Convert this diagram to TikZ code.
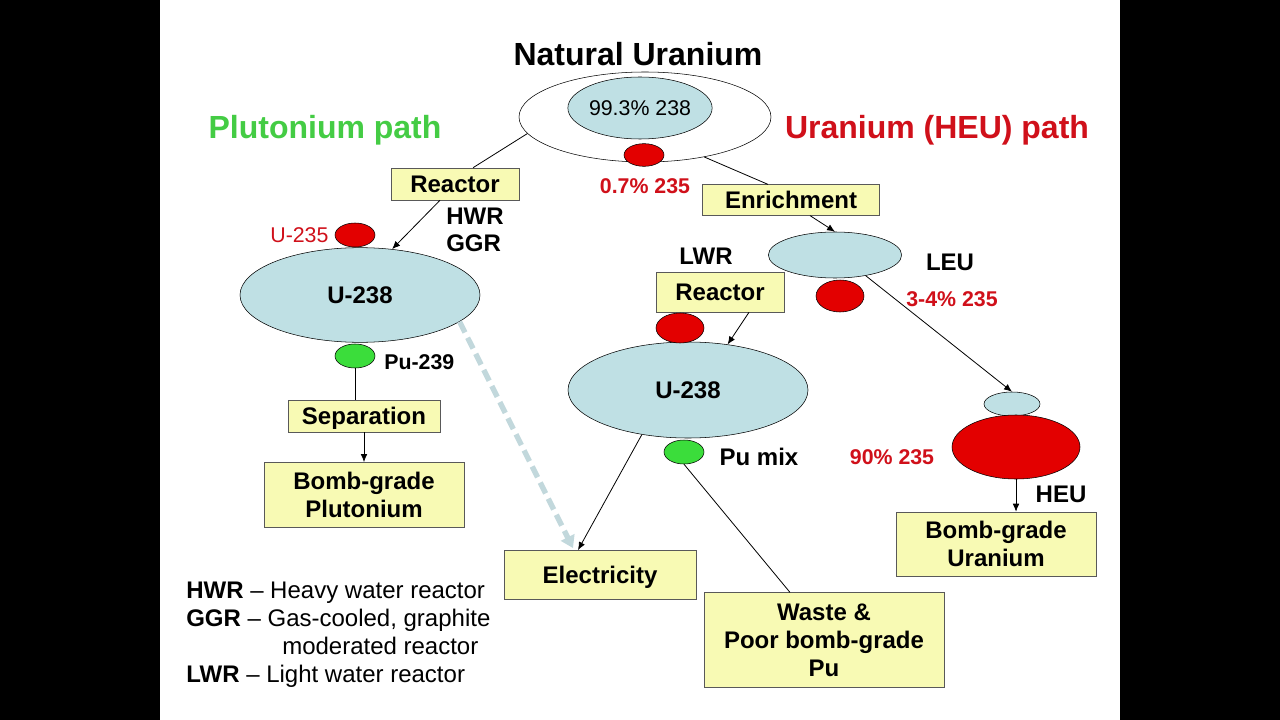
\documentclass[tikz,border=0pt]{standalone}
\usepackage{fontspec}
\setmainfont{Liberation Sans}
\usetikzlibrary{shapes.geometric, arrows.meta, positioning, calc}
\definecolor{paleblue}{HTML}{BFE0E4}
\definecolor{paleyellow}{HTML}{F8FAB4}
\definecolor{uranred}{HTML}{E30000}
\definecolor{textred}{HTML}{D0101A}
\definecolor{pugreen}{HTML}{3BDD3B}
\definecolor{pathgreen}{HTML}{44CC44}
\definecolor{dashblue}{HTML}{C2D8DC}

\begin{document}
\begin{tikzpicture}[
  x=0.75pt, y=-0.75pt,
  box/.style={rectangle, draw=black!65, fill=paleyellow, align=center, inner sep=0pt, text depth=0pt, font=\fontsize{18}{21}\selectfont\bfseries},
  blob/.style={ellipse, draw=black, fill=paleblue, inner sep=0pt, font=\fontsize{18}{21}\selectfont\bfseries},
  redblob/.style={ellipse, draw=black, fill=uranred, inner sep=0pt, minimum width=30pt, minimum height=18pt},
  greenblob/.style={ellipse, draw=black, fill=pugreen, inner sep=0pt, minimum width=30pt, minimum height=18pt},
  lbl/.style={font=\fontsize{18}{21}\selectfont\bfseries, inner sep=0pt, text depth=0pt},
  small/.style={font=\fontsize{16}{19}\selectfont\bfseries, inner sep=0pt, text depth=0pt},
  pct/.style={small, text=textred},
  heading/.style={font=\fontsize{24}{28}\selectfont\bfseries, inner sep=0pt, text depth=0pt},
  arrow/.style={-{Latex[length=6pt,width=5pt]}, line width=0.6pt},
  link/.style={line width=0.6pt}
]

% Slide
\fill[black] (0,0) rectangle (1280,720);
\fill[white] (160,0) rectangle (1120,720);
\useasboundingbox (0,0) rectangle (1280,720);

% Natural uranium
\node[heading] (title) at (638,54) {Natural Uranium};
\node[ellipse, draw=black, fill=white, minimum width=189pt, minimum height=67.5pt] (nat) at (645,117) {};
\node[blob, minimum width=108pt, minimum height=46.5pt, font=\fontsize{16}{19}\selectfont] (nat238) at (640,108) {99.3\% 238};
\node[redblob, minimum height=17pt] (nat235) at (644,155) {};
\node[pct] (natpct) at (645,186) {0.7\% 235};

% Path headings
\node[heading, text=pathgreen] (pupath) at (325,127) {Plutonium path};
\node[heading, text=textred] (upath) at (937,127) {Uranium (HEU) path};

% Plutonium path
\node[box, minimum width=96pt, minimum height=24pt] (react1) at (455,184) {Reactor};
\node[lbl, anchor=west] (hwr) at (446,216) {HWR};
\node[lbl, anchor=west] (ggr) at (446,243) {GGR};
\node[blob, minimum width=180pt, minimum height=71pt] (u238a) at (360,295) {U-238};
\node[redblob] (u235a) at (355,235) {};
\node[font=\fontsize{16}{19}\selectfont, text=textred, inner sep=0pt, left=4.5pt of u235a] (u235lbl) {U-235};
\node[greenblob] (pu1) at (355,356) {};
\node[small, anchor=west] (pu1lbl) at (384,362) {Pu-239};
\node[box, minimum width=114pt, minimum height=24pt] (sep) at (364,416) {Separation};
\node[box, minimum width=150pt, minimum height=49pt] (bgpu) at (364,495) {Bomb-grade\\Plutonium};

% Uranium (HEU) path
\node[box, minimum width=133pt, minimum height=23pt] (enr) at (791,200) {Enrichment};
\node[blob, minimum width=100pt, minimum height=34.5pt] (leu) at (835,255) {};
\node[lbl] (leulbl) at (950,262) {LEU};
\node[redblob, minimum width=36pt, minimum height=24pt] (leu235) at (840,296) {};
\node[pct] (leupct) at (952,299) {3-4\% 235};
\node[blob, minimum width=42pt, minimum height=18pt] (heu238) at (1012,404) {};
\node[redblob, minimum width=96pt, minimum height=48pt] (heu) at (1016,447) {};
\node[pct] (heupct) at (892,457) {90\% 235};
\node[lbl] (heulbl) at (1061,494) {HEU};
\node[box, minimum width=150pt, minimum height=48pt] (bgu) at (996,544) {Bomb-grade\\Uranium};

% Power reactor
\node[lbl] (lwr) at (706,256) {LWR};
\node[box, minimum width=96pt, minimum height=30pt] (react2) at (720,292) {Reactor};
\node[blob, minimum width=180pt, minimum height=72pt] (u238b) at (688,390) {U-238};
\node[redblob, minimum width=36pt, minimum height=22.5pt] (fuel235) at (680,328) {};
\node[greenblob] (pu2) at (684,452) {};
\node[lbl] (pu2lbl) at (759,457) {Pu mix};
\node[box, minimum width=144pt, minimum height=37pt] (elec) at (600,575) {Electricity};
\node[box, minimum width=180pt, minimum height=71pt] (waste) at (824,640) {Waste \&\\Poor bomb-grade\\Pu};

% Legend
\node[font=\fontsize{18}{21}\selectfont, align=left, anchor=west, inner sep=0pt] (legend) at (186,635)
  {\textbf{HWR} -- Heavy water reactor\\
   \textbf{GGR} -- Gas-cooled, graphite\\
   \hspace*{72pt}moderated reactor\\
   \textbf{LWR} -- Light water reactor};

% Connectors
\draw[link] (nat.188) -- ($(react1.north)+(18,0)$);
\draw[arrow] ($(react1.south)+(-15,0)$) -- (u238a.55);
\draw[link] (pu1.south) -- (pu1.south |- sep.north);
\draw[arrow] (sep.south) -- (sep.south |- bgpu.north);
\draw[dashblue, line width=4pt, dash pattern=on 9pt off 4.5pt, -{Triangle[length=9pt,width=11pt]}] (u238a.-15) -- ($(elec.north)+(-27,-2)$);
\draw[link] (nat.-34) -- ($(enr.north)+(-23,0)$);
\draw[arrow] ($(enr.south)+(19,0)$) -- (leu.north);
\draw[arrow] (leu.-34) -- (heu238.north);
\draw[arrow] (heu.south) -- (heu.south |- bgu.north);
\draw[arrow] ($(react2.south)+(29,0)$) -- (u238b.49);
\draw[arrow] (u238b.224) -- ($(elec.north)+(-22,0)$);
\draw[link] (pu2.south) -- ($(waste.north)+(-34,0)$);

\end{tikzpicture}
\end{document}
